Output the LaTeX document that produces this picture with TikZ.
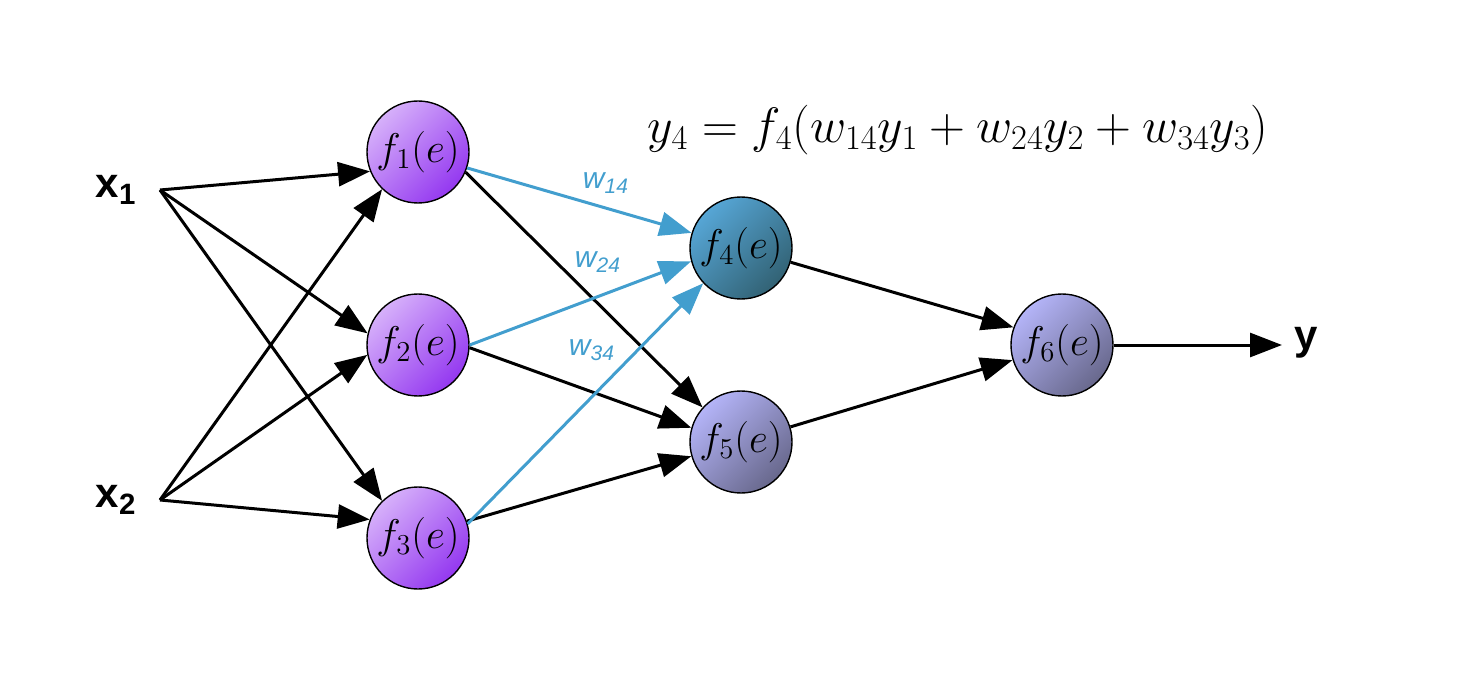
\documentclass[tikz,border=0pt]{standalone}
\usepackage{fontspec}
\setsansfont{Liberation Sans}
\usetikzlibrary{arrows.meta}

\definecolor{purpL}{RGB}{214,176,250}
\definecolor{purpD}{RGB}{148,56,240}
\definecolor{tealL}{RGB}{86,166,214}
\definecolor{tealD}{RGB}{50,98,116}
\definecolor{lavL}{RGB}{180,180,248}
\definecolor{lavD}{RGB}{104,104,140}
\definecolor{wblue}{RGB}{66,158,206}

\tikzset{
  neuron/.style={circle, draw=black, line width=0.7pt, minimum size=51pt, inner sep=0pt,
                 font=\fontsize{20}{22}\selectfont},
  hidA/.style={neuron, top color=purpL, bottom color=purpD, shading angle=45},
  hidB/.style={neuron, top color=tealL, bottom color=tealD, shading angle=45},
  hidC/.style={neuron, top color=lavL, bottom color=lavD, shading angle=45},
  link/.style={line width=1.5pt, -{Triangle[length=16pt,width=12pt]}},
  wlink/.style={link, draw=wblue},
  inlabel/.style={font=\sffamily\bfseries\fontsize{21}{24}\selectfont},
  wlabel/.style={font=\sffamily\itshape\fontsize{15}{18}\selectfont, text=wblue},
}

\begin{document}
\begin{tikzpicture}[x=0.5pt, y=-0.5pt]
    \useasboundingbox (0,0) rectangle (1480,674);

    % inputs
    \node[inlabel] (x1) at (116,190) {x\textsubscript{1}};
    \node[inlabel] (x2) at (116,500) {x\textsubscript{2}};
    \coordinate (x1c) at (160,190);
    \coordinate (x2c) at (160,500);

    % neurons
    \node[hidA] (f1) at (418,152) {$f_1(e)$};
    \node[hidA] (f2) at (418,345) {$f_2(e)$};
    \node[hidA] (f3) at (418,538) {$f_3(e)$};
    \node[hidB] (f4) at (741,248) {$f_4(e)$};
    \node[hidC] (f5) at (741,442) {$f_5(e)$};
    \node[hidC] (f6) at (1062,345) {$f_6(e)$};

    % output
    \coordinate (yc) at (1282,345);
    \node[inlabel] (y) at (1306,343) {y};

    % formula
    \node (eq) at (958,130) {\fontsize{23.7}{26}\selectfont $y_4 = f_4(w_{14}y_1 + w_{24}y_2 + w_{34}y_3)$};

    % connections
    \foreach \s/\t in {x1c/f1.202, x2c/f1.226, x1c/f2.167, x2c/f2.191, x1c/f3.134, x2c/f3.159,
                       f1.-23/f5.138, f2.-3/f5.164, f3.19/f5.196,
                       f4.-16/f6.160, f5.17/f6.197, f6.0/yc}
        \draw[link] (\s) -- (\t);

    \foreach \s/\t in {f1.-18/f4.163, f2.0/f4.195, f3.16/f4.223}
        \draw[wlink] (\s) -- (\t);

    % weights
    \node[wlabel] (w14) at (606,183) {w\textsubscript{14}};
    \node[wlabel] (w24) at (598,262) {w\textsubscript{24}};
    \node[wlabel] (w34) at (592,350) {w\textsubscript{34}};
\end{tikzpicture}
\end{document}
